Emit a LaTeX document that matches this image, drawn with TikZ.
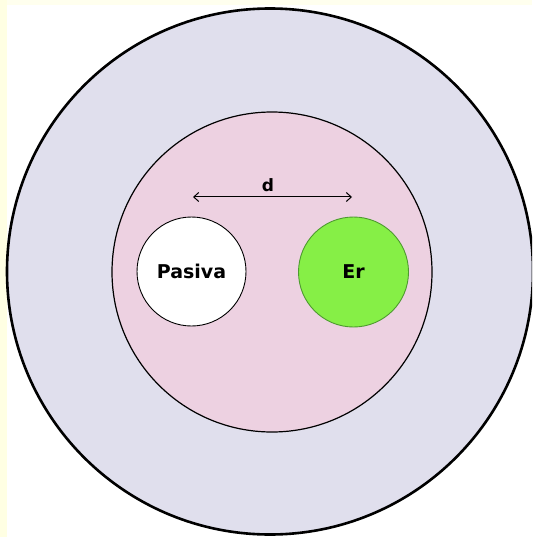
\documentclass[tikz,border=0pt]{standalone}
\usepackage{fontspec}
\setmainfont{DejaVu Sans}
\usetikzlibrary{arrows.meta}
\definecolor{strip}{HTML}{FFFFE3}
\definecolor{outerfill}{HTML}{E0DFED}
\definecolor{innerfill}{HTML}{EDD1E1}
\definecolor{erfill}{HTML}{86EF46}
\definecolor{erline}{HTML}{4E9A30}
\tikzset{
  outerc/.style={circle, draw=black, line width=2.6pt, fill=outerfill, minimum size=526pt, inner sep=0pt},
  innerc/.style={circle, draw=black, line width=1.2pt, fill=innerfill, minimum size=320pt, inner sep=0pt},
  smallc/.style={circle, draw=black, line width=0.9pt, minimum size=109pt, inner sep=0pt, font=\bfseries\fontsize{19}{22}\selectfont},
  lbl/.style={font=\bfseries\fontsize{17}{19}\selectfont, inner sep=0pt}
}
\begin{document}
\begin{tikzpicture}[x=1pt,y=-1pt]
\useasboundingbox (0,0) rectangle (532,537);
\fill[white] (0,0) rectangle (532,537);
\fill[strip] (0,0) rectangle (7,537);
\fill[strip!60!white] (7,0) rectangle (532,5);
\begin{scope}
\clip (0,0) rectangle (532,537);
\node[outerc] (outer) at (270,271.5) {};
\end{scope}
\node[innerc] (inner) at (272,272) {};
\node[smallc, fill=white] (pasiva) at (191.5,271.5) {Pasiva};
\node[smallc, fill=erfill, draw=erline, minimum size=110pt] (er) at (353.5,272) {Er};
\coordinate (a1) at (193,197);
\coordinate (a2) at (352,197);
\draw[{Straight Barb[length=5pt,width=9pt]}-{Straight Barb[length=5pt,width=9pt]}, line width=1pt] (a1) -- (a2);
\node[lbl] (d) at (268,185) {d};
\end{tikzpicture}
\end{document}
